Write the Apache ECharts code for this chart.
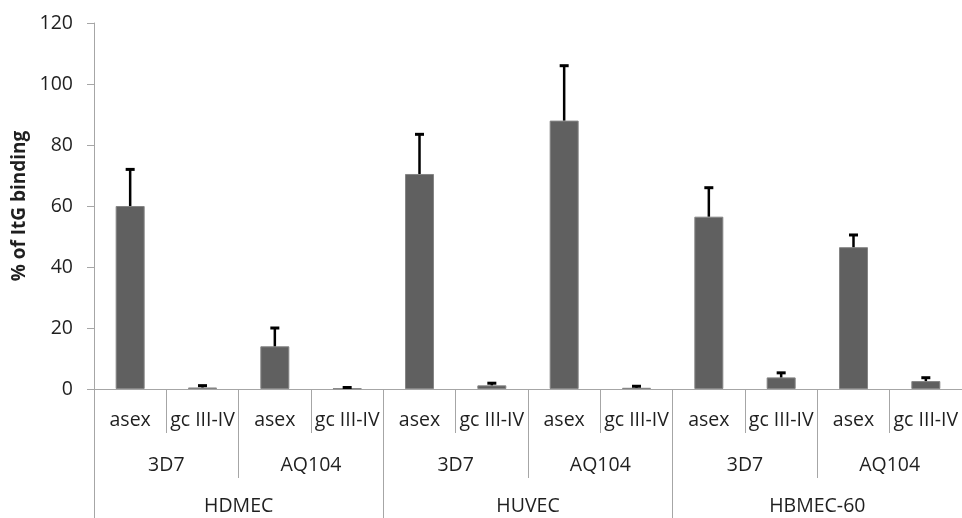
<!DOCTYPE html>
<html>
<head>
<meta charset="utf-8">
<script src="https://cdn.jsdelivr.net/npm/echarts@6/dist/echarts.min.js"></script>
<style>
  html, body { margin: 0; padding: 0; background: #fff; }
  #chart { width: 962px; height: 518px; }
</style>
</head>
<body>
<div id="chart"></div>
<script>
// Stage labels (innermost axis level)
const stages = ['asex', 'gc III-IV', 'asex', 'gc III-IV', 'asex', 'gc III-IV',
                'asex', 'gc III-IV', 'asex', 'gc III-IV', 'asex', 'gc III-IV'];
// Parasite lines (middle axis level)
const strains = ['3D7', 'AQ104', '3D7', 'AQ104', '3D7', 'AQ104'];
// Endothelial cell types (outer axis level)
const cellTypes = ['HDMEC', 'HUVEC', 'HBMEC-60'];
// Mean binding, % of ItG
const binding = [60, 0.5, 14, 0.2, 70.5, 1.2, 88, 0.4, 56.5, 3.8, 46.5, 2.6];
// Upper error (SD)
const errors = [12, 0.6, 6, 0.3, 13, 0.7, 18, 0.5, 9.5, 1.5, 4, 1.1];
// Y axis ticks
const yTicks = { min: 0, max: 120, step: 20 };

const FONT = 'Open Sans';
const AXIS_GREY = '#a6a6a6';
const TEXT = '#1f1f1f';

const chart = echarts.init(document.getElementById('chart'), null, { renderer: 'canvas' });

function levelAxis(data, tickLen, labelMargin, showLine) {
  return {
    type: 'category',
    gridIndex: 0,
    position: 'bottom',
    data: data,
    boundaryGap: true,
    axisLine: { show: showLine, lineStyle: { color: AXIS_GREY, width: 1 } },
    axisTick: { show: true, interval: 0, length: tickLen, alignWithLabel: false,
                lineStyle: { color: AXIS_GREY, width: 1 } },
    axisLabel: { interval: 0, margin: labelMargin, verticalAlign: 'middle',
                 color: TEXT, fontFamily: FONT, fontSize: 19.5 },
    splitLine: { show: false }
  };
}

const option = {
  backgroundColor: '#ffffff',
  animation: false,
  grid: { left: 94, top: 23, width: 873, bottom: 129, containLabel: false },
  xAxis: [
    levelAxis(stages, 44, 31, true),
    levelAxis(strains, 89, 76, false),
    levelAxis(cellTypes, 140, 117, false)
  ],
  yAxis: {
    type: 'value',
    min: yTicks.min,
    max: yTicks.max,
    interval: yTicks.step,
    name: '% of ItG binding',
    nameLocation: 'middle',
    nameRotate: 90,
    nameGap: 60,
    nameTextStyle: { color: TEXT, fontFamily: FONT, fontSize: 19, fontWeight: 'bold' },
    axisLine: { show: true, lineStyle: { color: AXIS_GREY, width: 1 } },
    axisTick: { show: true, length: 7, lineStyle: { color: AXIS_GREY, width: 1 } },
    axisLabel: { margin: 21, color: TEXT, fontFamily: FONT, fontSize: 19.5 },
    splitLine: { show: false }
  },
  series: [
    {
      type: 'bar',
      xAxisIndex: 0,
      data: binding,
      barWidth: 29,
      itemStyle: { color: '#606060', borderColor: '#858585', borderWidth: 1 },
      z: 2
    },
    {
      type: 'custom',
      xAxisIndex: 0,
      data: binding.map((v, i) => [i, v, errors[i]]),
      z: 3,
      renderItem: function (params, api) {
        const i = api.value(0);
        const v = api.value(1);
        const e = api.value(2);
        const base = api.coord([i, v]);
        const top = api.coord([i, v + e]);
        const half = 4.5;
        return {
          type: 'group',
          children: [
            { type: 'line', shape: { x1: base[0], y1: base[1], x2: top[0], y2: top[1] },
              style: { stroke: '#000', lineWidth: 2.5 } },
            { type: 'line', shape: { x1: top[0] - half, y1: top[1], x2: top[0] + half, y2: top[1] },
              style: { stroke: '#000', lineWidth: 3 } }
          ]
        };
      }
    }
  ]
};

chart.setOption(option);
</script>
</body>
</html>
